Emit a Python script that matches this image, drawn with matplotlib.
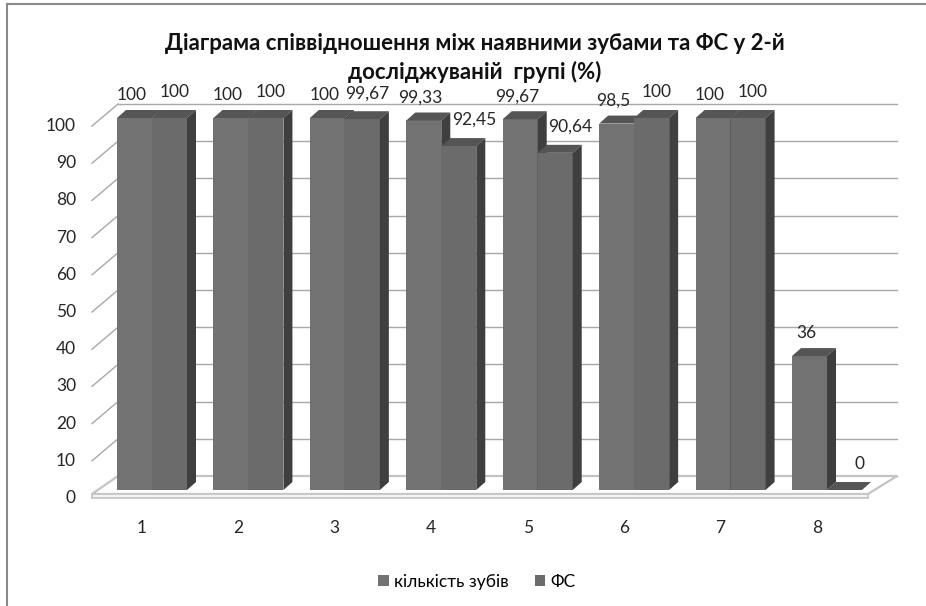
import matplotlib
matplotlib.use('Agg')
import matplotlib.pyplot as plt
from matplotlib.patches import Polygon, Patch
from matplotlib.lines import Line2D
import numpy as np

# ---------------- data ----------------
categories = ['1', '2', '3', '4', '5', '6', '7', '8']
teeth = [100, 100, 100, 99.33, 99.67, 98.5, 100, 36]
fs = [100, 100, 99.67, 92.45, 90.64, 100, 100, 0]
teeth_labels = ['100', '100', '100', '99,33', '99,67', '98,5', '100', '36']
fs_labels = ['100', '100', '99,67', '92,45', '90,64', '100', '100', '0']
yticks = [0, 10, 20, 30, 40, 50, 60, 70, 80, 90, 100]
series_names = ['кількість зубів', 'ФС']
title = 'Діаграма співвідношення між наявними зубами та ФС у 2-й\nдосліджуваній  групі (%)'

plt.rcParams['font.family'] = ['Lato', 'Open Sans', 'DejaVu Sans']

W, H = 926, 606
fig = plt.figure(figsize=(W / 100, H / 100), dpi=100)
ax = fig.add_axes([0, 0, 1, 1])

# pixel scale of the axes (layout only)
SX, SY = 96.43, 3.72
X0, Y0 = 152, 490
ax.set_xlim(-X0 / SX, (W - X0) / SX)
ax.set_ylim(-(H - Y0) / SY, Y0 / SY)
ax.axis('off')

def dxu(px):
    return px / SX

def dyu(px):
    return px / SY

def xpx(px):
    return (px - X0) / SX

FS = 12.5
TXT = '#262626'

# wall gridlines and diagonal tick lines
wall_dy = dyu(14)
front_dy = -dyu(8)
wall_l, wall_r = xpx(118), xpx(897)
front_l = xpx(92)
grid_col = '#a8a8a8'
for v in yticks:
    ax.plot([wall_l, wall_r], [v + wall_dy, v + wall_dy], color=grid_col, lw=1.0, zorder=1)
    ax.plot([front_l, wall_l], [v + front_dy, v + wall_dy], color=grid_col, lw=1.0, zorder=1)
    ax.text(xpx(76), v + front_dy, str(v), ha='right', va='center', fontsize=FS, color=TXT)

# floor slab
floor_top = Polygon([(front_l, -dyu(4)), (xpx(868), -dyu(4)), (wall_r, wall_dy), (wall_l, wall_dy)],
                    closed=True, facecolor='white', edgecolor='#c4c4c4', lw=1.6, zorder=1.5)
floor_front = Polygon([(front_l, -dyu(4)), (xpx(868), -dyu(4)), (xpx(868), front_dy), (front_l, front_dy)],
                      closed=True, facecolor='#f2f2f2', edgecolor='#c4c4c4', lw=1.2, zorder=1.5)
ax.add_patch(floor_top)
ax.add_patch(floor_front)

# bars
n = len(categories)
x = np.arange(n)
w = dxu(35)
bdx, bdy = dxu(9), dyu(8)
front_cols = ['#727272', '#6b6b6b']
top_col = '#555555'
side_col = '#3f3f3f'

def bars3d(lefts, heights, fcol, z):
    ax.bar(lefts, heights, width=w, align='edge', color=fcol, edgecolor='none', zorder=z)
    for x0, h in zip(lefts, heights):
        top = Polygon([(x0, h), (x0 + w, h), (x0 + w + bdx, h + bdy), (x0 + bdx, h + bdy)],
                      closed=True, facecolor=top_col, edgecolor='none', zorder=z)
        side = Polygon([(x0 + w, 0), (x0 + w, h), (x0 + w + bdx, h + bdy), (x0 + w + bdx, bdy)],
                       closed=True, facecolor=side_col, edgecolor='none', zorder=z)
        ax.add_patch(top)
        ax.add_patch(side)

bars3d(x - w, teeth, front_cols[0], 3)
bars3d(x, fs, front_cols[1], 4)

# data labels
PT = 0.72
for i in range(n):
    ax.annotate(teeth_labels[i], xy=(x[i] - w / 2, teeth[i]), xytext=(-3 * PT, 23 * PT),
                textcoords='offset points', ha='center', va='center', fontsize=FS, color=TXT, zorder=6)
    off = 15 if fs[i] < teeth[i] - 1 else 5
    ax.annotate(fs_labels[i], xy=(x[i] + w / 2, fs[i]), xytext=(off * PT, 26 * PT),
                textcoords='offset points', ha='center', va='center', fontsize=FS, color=TXT, zorder=6)

# category labels
for i, c in enumerate(categories):
    ax.text(x[i] - dxu(10), -dyu(38), c, ha='center', va='center', fontsize=FS, color=TXT)

# title
fig.text(475 / W, 1 - 58 / H, title, ha='center', va='center', fontsize=16,
         fontweight='bold', linespacing=1.35, color='#111111')

# legend
handles = [Patch(facecolor=front_cols[0], edgecolor='none'), Patch(facecolor=front_cols[1], edgecolor='none')]
fig.legend(handles, series_names, loc='center', bbox_to_anchor=(477 / W, 1 - 582 / H),
           ncol=2, frameon=False, fontsize=FS, handlelength=0.6, handleheight=0.6,
           handletextpad=0.3, columnspacing=1.5)

# outer frame (left and top edges)
fig.add_artist(Line2D([7 / W, 7 / W], [0, 1 - 4 / H], color='#8a8a8a', lw=1.5))
fig.add_artist(Line2D([7 / W, 1], [1 - 4 / H, 1 - 4 / H], color='#8a8a8a', lw=1.5))

fig.savefig('out.png', dpi=100, facecolor='white')
